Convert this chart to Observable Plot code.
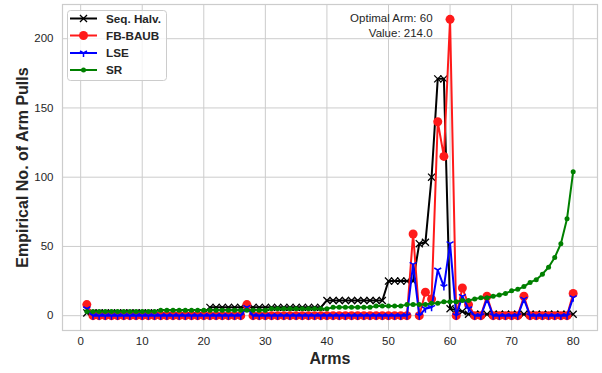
<!DOCTYPE html>
<html><head><meta charset="utf-8">
<script src="https://cdn.jsdelivr.net/npm/d3@7"></script>
<script src="https://cdn.jsdelivr.net/npm/@observablehq/plot@0.6"></script>
<style>
body{margin:0;background:#fff;}
#wrap{position:relative;width:602px;height:373px;font-family:"Liberation Sans",Arial,sans-serif;}
#legend{position:absolute;left:67px;top:10px;}
</style></head><body><div id="wrap"></div>
<script>
// ---- data ----
const arms = [1,2,3,4,5,6,7,8,9,10,11,12,13,14,15,16,17,18,19,20,21,22,23,24,25,26,27,28,29,30,31,32,33,34,35,36,37,38,39,40,41,42,43,44,45,46,47,48,49,50,51,52,53,54,55,56,57,58,59,60,61,62,63,64,65,66,67,68,69,70,71,72,73,74,75,76,77,78,79,80];
const seqHalv = [2,2,2,2,2,2,2,2,2,2,2,2,2,2,2,2,2,2,2,2,
  6,6,6,6,6,6,6,6,6,6,6,6,6,6,6,6,6,6,6,
  11,11,11,11,11,11,11,11,11,11,
  25,25,25,25,25,
  52,53,100,171,171,
  5,4,3,
  1,1,1,1,1,1,1,1,1,1,1,1,1,1,1,1,1,1];
const fbBaub = [8,0,0,0,0,0,0,0,0,0,0,0,0,0,0,0,0,0,0,0,0,0,0,0,0,0,
  8,0,0,0,0,0,0,0,0,0,0,0,0,0,0,0,0,0,0,0,0,0,0,0,0,0,0,
  59,0,17,12,140,115,214,0,20,8,0,0,14,0,0,0,0,0,14,0,0,0,0,0,0,0,16];
const lse = [5,0,0,0,0,0,0,0,0,0,0,0,0,0,0,0,0,0,0,0,0,0,0,0,0,0,
  6,0,0,0,0,0,0,0,0,0,0,0,0,0,0,0,0,0,0,0,0,0,0,0,0,0,0,
  37,0,5,6,33,21,52,0,14,5,0,0,12,0,0,0,0,0,12,0,0,0,0,0,0,0,13];
const sr = [3,3,3,3,3,3,3,3,3,3,3,3,
  4,4,4,4,4,4,4,4,4,4,4,4,4,4,4,4,4,4,
  5,5,5,5,5,5,5,5,5,5,
  6,6,6,6,6,6,6,
  7,7,7,7,7,
  8,8,8,8,
  9,9,
  10,10,10,
  11,11,12,13,13,14,15,16,18,19,21,24,26,30,35,42,52,70,104];
const seriesNames = ["Seq. Halv.", "FB-BAUB", "LSE", "SR"];
const seriesColors = ["#000000", "#ff1a1a", "#0000ff", "#008000"];
const xTicks = [0,10,20,30,40,50,60,70,80];
const yTicks = [0,50,100,150,200];
const xLabel = "Arms";
const yLabel = "Empirical No. of Arm Pulls";

// tri_down marker (matplotlib "1")
const triDown = {
  draw(ctx, size) {
    const r = Math.sqrt(size / Math.PI);
    ctx.moveTo(0, 0); ctx.lineTo(0, r);
    ctx.moveTo(0, 0); ctx.lineTo(-0.866 * r, -0.5 * r);
    ctx.moveTo(0, 0); ctx.lineTo(0.866 * r, -0.5 * r);
  }
};

const seriesValues = [seqHalv, fbBaub, lse, sr];
const tables = seriesValues.map(vals => arms.map((a, i) => ({arm: a, v: vals[i]})));
const markerStyles = [
  {symbol: "times", r: 3.3, fill: "none", stroke: seriesColors[0], strokeWidth: 1.3},
  {symbol: "circle", r: 4.5, fill: seriesColors[1], stroke: "none"},
  {symbol: triDown, r: 4, fill: "none", stroke: seriesColors[2], strokeWidth: 1.5},
  {symbol: "circle", r: 2.5, fill: seriesColors[3], stroke: "none"}
];

const maxV = d3.max(fbBaub);
const optIdx = fbBaub.indexOf(maxV);
const annotation = [{arm: arms[optIdx], value: maxV, label: `Optimal Arm: ${arms[optIdx]}\nValue: ${maxV.toFixed(1)}`}];

const marks = [
  Plot.gridX(xTicks, {stroke: "#cccccc", strokeOpacity: 1, strokeWidth: 1}),
  Plot.gridY(yTicks, {stroke: "#cccccc", strokeOpacity: 1, strokeWidth: 1}),
  Plot.frame({stroke: "#cccccc", strokeWidth: 1.2}),
  Plot.axisX(xTicks, {tickSize: 0, tickPadding: 6, label: null, fontSize: 11.5, fill: "#262626"}),
  Plot.axisY(yTicks, {tickSize: 0, tickPadding: 9, label: null, fontSize: 11.5, fill: "#262626"})
];
tables.forEach((t, k) => {
  marks.push(Plot.line(t, {x: "arm", y: "v", stroke: seriesColors[k], strokeWidth: 2}));
  marks.push(Plot.dot(t, {x: "arm", y: "v", ...markerStyles[k]}));
});
marks.push(Plot.text(annotation, {x: "arm", y: "value", text: "label", textAnchor: "end", lineAnchor: "middle", dx: -17.5, dy: 5, fontSize: 11.5, lineHeight: 1.33, fill: "#262626"}));
marks.push(Plot.text([xLabel], {frameAnchor: "bottom", textAnchor: "middle", lineAnchor: "middle", dy: 28, fontSize: 16, fontWeight: "bold", fill: "#262626"}));
marks.push(Plot.text([yLabel], {frameAnchor: "left", textAnchor: "middle", lineAnchor: "middle", rotate: -90, dx: -40, fontSize: 16, fontWeight: "bold", fill: "#262626"}));

const chart = Plot.plot({
  width: 602, height: 373,
  marginLeft: 62, marginRight: 5, marginTop: 4, marginBottom: 43,
  x: {domain: [-2.95, 83.95]},
  y: {domain: [-10.7, 224.7]},
  style: {fontFamily: "'Liberation Sans', Arial, sans-serif", fontSize: "11.5px", background: "#fff", overflow: "visible"},
  marks
});
const wrap = document.getElementById("wrap");
wrap.appendChild(chart);

// legend
const lg = d3.select(wrap).append("svg").attr("id", "legend").attr("width", 100).attr("height", 72)
  .style("font-family", "'Liberation Sans', Arial, sans-serif");
lg.append("rect").attr("x", 0.5).attr("y", 0.5).attr("width", 99).attr("height", 70).attr("rx", 3)
  .attr("fill", "#fff").attr("fill-opacity", 0.8).attr("stroke", "#cccccc");
const rowY = [8.5, 25.5, 43, 60];
seriesNames.forEach((name, k) => {
  const g = lg.append("g").attr("transform", `translate(0,${rowY[k]})`);
  g.append("line").attr("x1", 3).attr("x2", 30).attr("y1", 0).attr("y2", 0)
    .attr("stroke", seriesColors[k]).attr("stroke-width", 2);
  const ms = markerStyles[k];
  const sym = ms.symbol === "times" ? d3.symbolTimes : ms.symbol === "circle" ? d3.symbolCircle : ms.symbol;
  g.append("path").attr("transform", "translate(16.5,0)")
    .attr("d", d3.symbol(sym, ms.r * ms.r * Math.PI)())
    .attr("fill", ms.fill).attr("stroke", ms.stroke).attr("stroke-width", ms.strokeWidth || 0);
  g.append("text").attr("x", 39).attr("y", 0).attr("dy", "0.35em")
    .attr("font-size", 11.7).attr("font-weight", "bold").attr("fill", "#262626").text(name);
});
</script>
</body></html>
